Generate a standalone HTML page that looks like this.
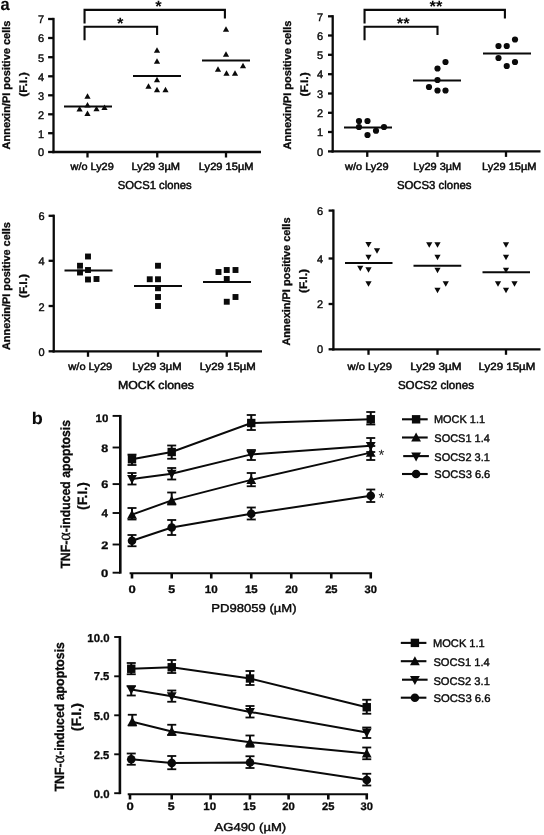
<!DOCTYPE html>
<html><head><meta charset="utf-8"><title>Figure</title>
<style>
html,body{margin:0;padding:0;background:#fff;}
body{width:544px;height:835px;overflow:hidden;font-family:"Liberation Sans",sans-serif;}
svg{display:block;filter:grayscale(1);}
text{font-family:"Liberation Sans",sans-serif;}
</style></head><body>
<svg width="544" height="835" viewBox="0 0 544 835" font-family="Liberation Sans, sans-serif" text-rendering="geometricPrecision">
<rect width="544" height="835" fill="#fff"/>
<line x1="53.5" y1="17.85" x2="53.5" y2="153.15" stroke="#0a0a0a" stroke-width="2.3" stroke-linecap="butt"/>
<line x1="48.1" y1="19" x2="53.5" y2="19" stroke="#0a0a0a" stroke-width="2.3" stroke-linecap="butt"/>
<text x="44" y="23.45" font-size="11" text-anchor="end" font-weight="normal" font-family="Liberation Sans" fill="#0a0a0a" stroke="#0a0a0a" stroke-width="0.4">7</text>
<line x1="48.1" y1="38" x2="53.5" y2="38" stroke="#0a0a0a" stroke-width="2.3" stroke-linecap="butt"/>
<text x="44" y="42.45" font-size="11" text-anchor="end" font-weight="normal" font-family="Liberation Sans" fill="#0a0a0a" stroke="#0a0a0a" stroke-width="0.4">6</text>
<line x1="48.1" y1="57.2" x2="53.5" y2="57.2" stroke="#0a0a0a" stroke-width="2.3" stroke-linecap="butt"/>
<text x="44" y="61.650000000000006" font-size="11" text-anchor="end" font-weight="normal" font-family="Liberation Sans" fill="#0a0a0a" stroke="#0a0a0a" stroke-width="0.4">5</text>
<line x1="48.1" y1="76.3" x2="53.5" y2="76.3" stroke="#0a0a0a" stroke-width="2.3" stroke-linecap="butt"/>
<text x="44" y="80.75" font-size="11" text-anchor="end" font-weight="normal" font-family="Liberation Sans" fill="#0a0a0a" stroke="#0a0a0a" stroke-width="0.4">4</text>
<line x1="48.1" y1="95.3" x2="53.5" y2="95.3" stroke="#0a0a0a" stroke-width="2.3" stroke-linecap="butt"/>
<text x="44" y="99.75" font-size="11" text-anchor="end" font-weight="normal" font-family="Liberation Sans" fill="#0a0a0a" stroke="#0a0a0a" stroke-width="0.4">3</text>
<line x1="48.1" y1="114.3" x2="53.5" y2="114.3" stroke="#0a0a0a" stroke-width="2.3" stroke-linecap="butt"/>
<text x="44" y="118.75" font-size="11" text-anchor="end" font-weight="normal" font-family="Liberation Sans" fill="#0a0a0a" stroke="#0a0a0a" stroke-width="0.4">2</text>
<line x1="48.1" y1="133.2" x2="53.5" y2="133.2" stroke="#0a0a0a" stroke-width="2.3" stroke-linecap="butt"/>
<text x="44" y="137.64999999999998" font-size="11" text-anchor="end" font-weight="normal" font-family="Liberation Sans" fill="#0a0a0a" stroke="#0a0a0a" stroke-width="0.4">1</text>
<line x1="48.1" y1="152" x2="53.5" y2="152" stroke="#0a0a0a" stroke-width="2.3" stroke-linecap="butt"/>
<text x="44" y="156.45" font-size="11" text-anchor="end" font-weight="normal" font-family="Liberation Sans" fill="#0a0a0a" stroke="#0a0a0a" stroke-width="0.4">0</text>
<line x1="52.35" y1="152" x2="261" y2="152" stroke="#0a0a0a" stroke-width="2.3" stroke-linecap="butt"/>
<line x1="87.5" y1="152" x2="87.5" y2="157.5" stroke="#0a0a0a" stroke-width="2.3" stroke-linecap="butt"/>
<line x1="157.25" y1="152" x2="157.25" y2="157.5" stroke="#0a0a0a" stroke-width="2.3" stroke-linecap="butt"/>
<line x1="226" y1="152" x2="226" y2="157.5" stroke="#0a0a0a" stroke-width="2.3" stroke-linecap="butt"/>
<text transform="translate(70.55,170.00) scale(1.0473,1)" font-size="10.4" fill="#0a0a0a" stroke="#0a0a0a" stroke-width="0.5"><tspan font-family="Liberation Sans" font-weight="normal">w/o Ly29</tspan></text>
<text transform="translate(131.61,170.00) scale(1.0665,1)" font-size="10.4" fill="#0a0a0a" stroke="#0a0a0a" stroke-width="0.5"><tspan font-family="Liberation Sans" font-weight="normal">Ly29 3µM</tspan></text>
<text transform="translate(198.86,170.00) scale(1.0673,1)" font-size="10.4" fill="#0a0a0a" stroke="#0a0a0a" stroke-width="0.5"><tspan font-family="Liberation Sans" font-weight="normal">Ly29 15µM</tspan></text>
<text transform="translate(117.79,188.80) scale(0.9783,1)" font-size="11.5" fill="#0a0a0a" stroke="#0a0a0a" stroke-width="0.5"><tspan font-family="Liberation Sans" font-weight="normal">SOCS1 clones</tspan></text>
<text transform="translate(9.90,149.47) rotate(-90) scale(0.9988,1)" font-size="11.0" fill="#0a0a0a" stroke="#0a0a0a" stroke-width="0.3"><tspan font-family="Liberation Sans" font-weight="bold">Annexin/PI positive cells</tspan></text>
<text transform="translate(27.00,96.81) rotate(-90) scale(1.1148,1)" font-size="11.0" fill="#0a0a0a" stroke="#0a0a0a" stroke-width="0.3"><tspan font-family="Liberation Sans" font-weight="bold">(F.I.)</tspan></text>
<line x1="64" y1="106.4" x2="112" y2="106.4" stroke="#0a0a0a" stroke-width="2.0" stroke-linecap="butt"/>
<polygon points="84.40,98.63 90.60,98.63 87.50,93.17" fill="#0a0a0a"/>
<polygon points="84.40,107.43 90.60,107.43 87.50,101.97" fill="#0a0a0a"/>
<polygon points="76.50,111.43 82.70,111.43 79.60,105.97" fill="#0a0a0a"/>
<polygon points="93.40,111.33 99.60,111.33 96.50,105.87" fill="#0a0a0a"/>
<polygon points="101.40,110.03 107.60,110.03 104.50,104.57" fill="#0a0a0a"/>
<polygon points="84.40,115.93 90.60,115.93 87.50,110.47" fill="#0a0a0a"/>
<line x1="133" y1="75.9" x2="181" y2="75.9" stroke="#0a0a0a" stroke-width="2.0" stroke-linecap="butt"/>
<polygon points="153.90,52.73 160.10,52.73 157.00,47.27" fill="#0a0a0a"/>
<polygon points="153.90,63.73 160.10,63.73 157.00,58.27" fill="#0a0a0a"/>
<polygon points="153.90,82.23 160.10,82.23 157.00,76.77" fill="#0a0a0a"/>
<polygon points="145.40,88.73 151.60,88.73 148.50,83.27" fill="#0a0a0a"/>
<polygon points="153.90,92.23 160.10,92.23 157.00,86.77" fill="#0a0a0a"/>
<polygon points="162.40,92.23 168.60,92.23 165.50,86.77" fill="#0a0a0a"/>
<line x1="202" y1="60.4" x2="250" y2="60.4" stroke="#0a0a0a" stroke-width="2.0" stroke-linecap="butt"/>
<polygon points="222.90,31.73 229.10,31.73 226.00,26.27" fill="#0a0a0a"/>
<polygon points="222.90,56.73 229.10,56.73 226.00,51.27" fill="#0a0a0a"/>
<polygon points="239.90,68.23 246.10,68.23 243.00,62.77" fill="#0a0a0a"/>
<polygon points="214.90,71.73 221.10,71.73 218.00,66.27" fill="#0a0a0a"/>
<polygon points="223.40,75.73 229.60,75.73 226.50,70.27" fill="#0a0a0a"/>
<polygon points="231.90,75.73 238.10,75.73 235.00,70.27" fill="#0a0a0a"/>
<polyline points="84.55,23.4 84.55,9.9 224.9,9.9 224.9,18.4" fill="none" stroke="#0a0a0a" stroke-width="2.1"/>
<polyline points="84.55,40.2 84.55,26.7 157.1,26.7 157.1,35" fill="none" stroke="#0a0a0a" stroke-width="2.1"/>
<text x="158.4" y="12.2" font-size="16.5" text-anchor="middle" font-weight="bold" font-family="Liberation Sans" fill="#0a0a0a" stroke="#0a0a0a" stroke-width="0">*</text>
<text x="120.2" y="28.5" font-size="16.5" text-anchor="middle" font-weight="bold" font-family="Liberation Sans" fill="#0a0a0a" stroke="#0a0a0a" stroke-width="0">*</text>
<line x1="332.7" y1="15.15" x2="332.7" y2="152.55" stroke="#0a0a0a" stroke-width="2.3" stroke-linecap="butt"/>
<line x1="328" y1="16.3" x2="332.7" y2="16.3" stroke="#0a0a0a" stroke-width="2.3" stroke-linecap="butt"/>
<text x="323.2" y="20.5" font-size="11" text-anchor="end" font-weight="normal" font-family="Liberation Sans" fill="#0a0a0a" stroke="#0a0a0a" stroke-width="0.4">7</text>
<line x1="328" y1="35.5" x2="332.7" y2="35.5" stroke="#0a0a0a" stroke-width="2.3" stroke-linecap="butt"/>
<text x="323.2" y="39.7" font-size="11" text-anchor="end" font-weight="normal" font-family="Liberation Sans" fill="#0a0a0a" stroke="#0a0a0a" stroke-width="0.4">6</text>
<line x1="328" y1="54.8" x2="332.7" y2="54.8" stroke="#0a0a0a" stroke-width="2.3" stroke-linecap="butt"/>
<text x="323.2" y="59.0" font-size="11" text-anchor="end" font-weight="normal" font-family="Liberation Sans" fill="#0a0a0a" stroke="#0a0a0a" stroke-width="0.4">5</text>
<line x1="328" y1="74.2" x2="332.7" y2="74.2" stroke="#0a0a0a" stroke-width="2.3" stroke-linecap="butt"/>
<text x="323.2" y="78.4" font-size="11" text-anchor="end" font-weight="normal" font-family="Liberation Sans" fill="#0a0a0a" stroke="#0a0a0a" stroke-width="0.4">4</text>
<line x1="328" y1="93.5" x2="332.7" y2="93.5" stroke="#0a0a0a" stroke-width="2.3" stroke-linecap="butt"/>
<text x="323.2" y="97.7" font-size="11" text-anchor="end" font-weight="normal" font-family="Liberation Sans" fill="#0a0a0a" stroke="#0a0a0a" stroke-width="0.4">3</text>
<line x1="328" y1="112.8" x2="332.7" y2="112.8" stroke="#0a0a0a" stroke-width="2.3" stroke-linecap="butt"/>
<text x="323.2" y="117.0" font-size="11" text-anchor="end" font-weight="normal" font-family="Liberation Sans" fill="#0a0a0a" stroke="#0a0a0a" stroke-width="0.4">2</text>
<line x1="328" y1="132" x2="332.7" y2="132" stroke="#0a0a0a" stroke-width="2.3" stroke-linecap="butt"/>
<text x="323.2" y="136.2" font-size="11" text-anchor="end" font-weight="normal" font-family="Liberation Sans" fill="#0a0a0a" stroke="#0a0a0a" stroke-width="0.4">1</text>
<line x1="328" y1="151.4" x2="332.7" y2="151.4" stroke="#0a0a0a" stroke-width="2.3" stroke-linecap="butt"/>
<text x="323.2" y="155.6" font-size="11" text-anchor="end" font-weight="normal" font-family="Liberation Sans" fill="#0a0a0a" stroke="#0a0a0a" stroke-width="0.4">0</text>
<line x1="331.55" y1="151.4" x2="540.5" y2="151.4" stroke="#0a0a0a" stroke-width="2.3" stroke-linecap="butt"/>
<line x1="367.25" y1="151.4" x2="367.25" y2="156.9" stroke="#0a0a0a" stroke-width="2.3" stroke-linecap="butt"/>
<line x1="437.5" y1="151.4" x2="437.5" y2="156.9" stroke="#0a0a0a" stroke-width="2.3" stroke-linecap="butt"/>
<line x1="506" y1="151.4" x2="506" y2="156.9" stroke="#0a0a0a" stroke-width="2.3" stroke-linecap="butt"/>
<text transform="translate(344.96,169.80) scale(1.0583,1)" font-size="10.4" fill="#0a0a0a" stroke="#0a0a0a" stroke-width="0.5"><tspan font-family="Liberation Sans" font-weight="normal">w/o Ly29</tspan></text>
<text transform="translate(413.32,169.80) scale(1.0539,1)" font-size="10.4" fill="#0a0a0a" stroke="#0a0a0a" stroke-width="0.5"><tspan font-family="Liberation Sans" font-weight="normal">Ly29 3µM</tspan></text>
<text transform="translate(482.01,169.80) scale(1.0642,1)" font-size="10.4" fill="#0a0a0a" stroke="#0a0a0a" stroke-width="0.5"><tspan font-family="Liberation Sans" font-weight="normal">Ly29 15µM</tspan></text>
<text transform="translate(396.89,189.20) scale(0.9890,1)" font-size="11.5" fill="#0a0a0a" stroke="#0a0a0a" stroke-width="0.5"><tspan font-family="Liberation Sans" font-weight="normal">SOCS3 clones</tspan></text>
<text transform="translate(290.90,149.47) rotate(-90) scale(0.9988,1)" font-size="11.0" fill="#0a0a0a" stroke="#0a0a0a" stroke-width="0.3"><tspan font-family="Liberation Sans" font-weight="bold">Annexin/PI positive cells</tspan></text>
<text transform="translate(307.60,96.51) rotate(-90) scale(1.1005,1)" font-size="11.0" fill="#0a0a0a" stroke="#0a0a0a" stroke-width="0.3"><tspan font-family="Liberation Sans" font-weight="bold">(F.I.)</tspan></text>
<line x1="344" y1="127.4" x2="392" y2="127.4" stroke="#0a0a0a" stroke-width="2.0" stroke-linecap="butt"/>
<circle cx="359" cy="121" r="3.1" fill="#0a0a0a"/>
<circle cx="367.5" cy="121" r="3.1" fill="#0a0a0a"/>
<circle cx="359" cy="127" r="3.1" fill="#0a0a0a"/>
<circle cx="384" cy="127" r="3.1" fill="#0a0a0a"/>
<circle cx="376" cy="130.75" r="3.1" fill="#0a0a0a"/>
<circle cx="367.5" cy="135" r="3.1" fill="#0a0a0a"/>
<line x1="413" y1="80.4" x2="461" y2="80.4" stroke="#0a0a0a" stroke-width="2.0" stroke-linecap="butt"/>
<circle cx="445.5" cy="62" r="3.1" fill="#0a0a0a"/>
<circle cx="437.5" cy="68.5" r="3.1" fill="#0a0a0a"/>
<circle cx="437.5" cy="80" r="3.1" fill="#0a0a0a"/>
<circle cx="429" cy="87" r="3.1" fill="#0a0a0a"/>
<circle cx="437.5" cy="90.5" r="3.1" fill="#0a0a0a"/>
<circle cx="445.5" cy="90.5" r="3.1" fill="#0a0a0a"/>
<line x1="483" y1="53.4" x2="531" y2="53.4" stroke="#0a0a0a" stroke-width="2.0" stroke-linecap="butt"/>
<circle cx="515" cy="39.5" r="3.1" fill="#0a0a0a"/>
<circle cx="498.5" cy="46" r="3.1" fill="#0a0a0a"/>
<circle cx="506.75" cy="46" r="3.1" fill="#0a0a0a"/>
<circle cx="498.5" cy="58" r="3.1" fill="#0a0a0a"/>
<circle cx="515" cy="62" r="3.1" fill="#0a0a0a"/>
<circle cx="506.75" cy="66" r="3.1" fill="#0a0a0a"/>
<polyline points="364.55,23.4 364.55,9.9 504.9,9.9 504.9,18.4" fill="none" stroke="#0a0a0a" stroke-width="2.1"/>
<polyline points="364.55,40.2 364.55,26.7 437.5,26.7 437.5,35" fill="none" stroke="#0a0a0a" stroke-width="2.1"/>
<text x="435.9" y="12.2" font-size="16.5" text-anchor="middle" font-weight="bold" font-family="Liberation Sans" fill="#0a0a0a" stroke="#0a0a0a" stroke-width="0">**</text>
<text x="403.2" y="28.5" font-size="16.5" text-anchor="middle" font-weight="bold" font-family="Liberation Sans" fill="#0a0a0a" stroke="#0a0a0a" stroke-width="0">**</text>
<line x1="53.75" y1="214.65" x2="53.75" y2="352.45" stroke="#0a0a0a" stroke-width="2.3" stroke-linecap="butt"/>
<line x1="48.6" y1="215.8" x2="53.75" y2="215.8" stroke="#0a0a0a" stroke-width="2.3" stroke-linecap="butt"/>
<text x="44.5" y="220.45" font-size="11" text-anchor="end" font-weight="normal" font-family="Liberation Sans" fill="#0a0a0a" stroke="#0a0a0a" stroke-width="0.4">6</text>
<line x1="48.6" y1="260.8" x2="53.75" y2="260.8" stroke="#0a0a0a" stroke-width="2.3" stroke-linecap="butt"/>
<text x="44.5" y="265.45" font-size="11" text-anchor="end" font-weight="normal" font-family="Liberation Sans" fill="#0a0a0a" stroke="#0a0a0a" stroke-width="0.4">4</text>
<line x1="48.6" y1="306" x2="53.75" y2="306" stroke="#0a0a0a" stroke-width="2.3" stroke-linecap="butt"/>
<text x="44.5" y="310.65" font-size="11" text-anchor="end" font-weight="normal" font-family="Liberation Sans" fill="#0a0a0a" stroke="#0a0a0a" stroke-width="0.4">2</text>
<line x1="48.6" y1="351.3" x2="53.75" y2="351.3" stroke="#0a0a0a" stroke-width="2.3" stroke-linecap="butt"/>
<text x="44.5" y="355.95" font-size="11" text-anchor="end" font-weight="normal" font-family="Liberation Sans" fill="#0a0a0a" stroke="#0a0a0a" stroke-width="0.4">0</text>
<line x1="52.6" y1="351.3" x2="262" y2="351.3" stroke="#0a0a0a" stroke-width="2.3" stroke-linecap="butt"/>
<line x1="88" y1="351.3" x2="88" y2="356.8" stroke="#0a0a0a" stroke-width="2.3" stroke-linecap="butt"/>
<line x1="158" y1="351.3" x2="158" y2="356.8" stroke="#0a0a0a" stroke-width="2.3" stroke-linecap="butt"/>
<line x1="226.75" y1="351.3" x2="226.75" y2="356.8" stroke="#0a0a0a" stroke-width="2.3" stroke-linecap="butt"/>
<text transform="translate(68.31,370.10) scale(1.0657,1)" font-size="10.4" fill="#0a0a0a" stroke="#0a0a0a" stroke-width="0.5"><tspan font-family="Liberation Sans" font-weight="normal">w/o Ly29</tspan></text>
<text transform="translate(132.20,370.10) scale(1.0859,1)" font-size="10.4" fill="#0a0a0a" stroke="#0a0a0a" stroke-width="0.5"><tspan font-family="Liberation Sans" font-weight="normal">Ly29 3µM</tspan></text>
<text transform="translate(199.69,370.10) scale(1.0954,1)" font-size="10.4" fill="#0a0a0a" stroke="#0a0a0a" stroke-width="0.5"><tspan font-family="Liberation Sans" font-weight="normal">Ly29 15µM</tspan></text>
<text transform="translate(117.91,388.80) scale(1.0713,1)" font-size="11.5" fill="#0a0a0a" stroke="#0a0a0a" stroke-width="0.5"><tspan font-family="Liberation Sans" font-weight="normal">MOCK clones</tspan></text>
<text transform="translate(9.65,350.07) rotate(-90) scale(0.9917,1)" font-size="11.0" fill="#0a0a0a" stroke="#0a0a0a" stroke-width="0.3"><tspan font-family="Liberation Sans" font-weight="bold">Annexin/PI positive cells</tspan></text>
<text transform="translate(26.90,297.90) rotate(-90) scale(1.0861,1)" font-size="11.0" fill="#0a0a0a" stroke="#0a0a0a" stroke-width="0.3"><tspan font-family="Liberation Sans" font-weight="bold">(F.I.)</tspan></text>
<line x1="64.5" y1="270.4" x2="112.5" y2="270.4" stroke="#0a0a0a" stroke-width="2.0" stroke-linecap="butt"/>
<rect x="85.05" y="253.55" width="5.9" height="5.9" fill="#0a0a0a"/>
<rect x="77.05" y="262.80" width="5.9" height="5.9" fill="#0a0a0a"/>
<rect x="85.05" y="267.05" width="5.9" height="5.9" fill="#0a0a0a"/>
<rect x="77.05" y="269.55" width="5.9" height="5.9" fill="#0a0a0a"/>
<rect x="85.05" y="276.55" width="5.9" height="5.9" fill="#0a0a0a"/>
<rect x="93.55" y="276.05" width="5.9" height="5.9" fill="#0a0a0a"/>
<line x1="134" y1="285.9" x2="182" y2="285.9" stroke="#0a0a0a" stroke-width="2.0" stroke-linecap="butt"/>
<rect x="155.05" y="262.80" width="5.9" height="5.9" fill="#0a0a0a"/>
<rect x="146.80" y="276.30" width="5.9" height="5.9" fill="#0a0a0a"/>
<rect x="155.05" y="276.30" width="5.9" height="5.9" fill="#0a0a0a"/>
<rect x="155.05" y="285.30" width="5.9" height="5.9" fill="#0a0a0a"/>
<rect x="155.05" y="294.05" width="5.9" height="5.9" fill="#0a0a0a"/>
<rect x="155.05" y="303.05" width="5.9" height="5.9" fill="#0a0a0a"/>
<line x1="203" y1="281.9" x2="251" y2="281.9" stroke="#0a0a0a" stroke-width="2.0" stroke-linecap="butt"/>
<rect x="215.55" y="269.05" width="5.9" height="5.9" fill="#0a0a0a"/>
<rect x="223.80" y="267.05" width="5.9" height="5.9" fill="#0a0a0a"/>
<rect x="232.55" y="267.05" width="5.9" height="5.9" fill="#0a0a0a"/>
<rect x="223.80" y="276.05" width="5.9" height="5.9" fill="#0a0a0a"/>
<rect x="232.55" y="294.05" width="5.9" height="5.9" fill="#0a0a0a"/>
<rect x="223.80" y="298.80" width="5.9" height="5.9" fill="#0a0a0a"/>
<line x1="333.4" y1="209.45" x2="333.4" y2="350.45" stroke="#0a0a0a" stroke-width="2.3" stroke-linecap="butt"/>
<line x1="328.6" y1="210.6" x2="333.4" y2="210.6" stroke="#0a0a0a" stroke-width="2.3" stroke-linecap="butt"/>
<text x="323.2" y="214.74999999999997" font-size="11" text-anchor="end" font-weight="normal" font-family="Liberation Sans" fill="#0a0a0a" stroke="#0a0a0a" stroke-width="0.4">6</text>
<line x1="328.6" y1="258.5" x2="333.4" y2="258.5" stroke="#0a0a0a" stroke-width="2.3" stroke-linecap="butt"/>
<text x="323.2" y="262.65" font-size="11" text-anchor="end" font-weight="normal" font-family="Liberation Sans" fill="#0a0a0a" stroke="#0a0a0a" stroke-width="0.4">4</text>
<line x1="328.6" y1="304" x2="333.4" y2="304" stroke="#0a0a0a" stroke-width="2.3" stroke-linecap="butt"/>
<text x="323.2" y="308.15" font-size="11" text-anchor="end" font-weight="normal" font-family="Liberation Sans" fill="#0a0a0a" stroke="#0a0a0a" stroke-width="0.4">2</text>
<line x1="328.6" y1="349.3" x2="333.4" y2="349.3" stroke="#0a0a0a" stroke-width="2.3" stroke-linecap="butt"/>
<text x="323.2" y="353.45" font-size="11" text-anchor="end" font-weight="normal" font-family="Liberation Sans" fill="#0a0a0a" stroke="#0a0a0a" stroke-width="0.4">0</text>
<line x1="332.25" y1="349.3" x2="540.5" y2="349.3" stroke="#0a0a0a" stroke-width="2.3" stroke-linecap="butt"/>
<line x1="368.5" y1="349.3" x2="368.5" y2="354.8" stroke="#0a0a0a" stroke-width="2.3" stroke-linecap="butt"/>
<line x1="437.5" y1="349.3" x2="437.5" y2="354.8" stroke="#0a0a0a" stroke-width="2.3" stroke-linecap="butt"/>
<line x1="506" y1="349.3" x2="506" y2="354.8" stroke="#0a0a0a" stroke-width="2.3" stroke-linecap="butt"/>
<text transform="translate(347.56,369.50) scale(1.0755,1)" font-size="10.4" fill="#0a0a0a" stroke="#0a0a0a" stroke-width="0.5"><tspan font-family="Liberation Sans" font-weight="normal">w/o Ly29</tspan></text>
<text transform="translate(410.26,369.50) scale(1.1292,1)" font-size="10.4" fill="#0a0a0a" stroke="#0a0a0a" stroke-width="0.5"><tspan font-family="Liberation Sans" font-weight="normal">Ly29 3µM</tspan></text>
<text transform="translate(478.58,369.50) scale(1.1075,1)" font-size="10.4" fill="#0a0a0a" stroke="#0a0a0a" stroke-width="0.5"><tspan font-family="Liberation Sans" font-weight="normal">Ly29 15µM</tspan></text>
<text transform="translate(397.88,388.80) scale(1.0091,1)" font-size="11.5" fill="#0a0a0a" stroke="#0a0a0a" stroke-width="0.5"><tspan font-family="Liberation Sans" font-weight="normal">SOCS2 clones</tspan></text>
<text transform="translate(290.00,345.57) rotate(-90) scale(0.9925,1)" font-size="11.0" fill="#0a0a0a" stroke="#0a0a0a" stroke-width="0.3"><tspan font-family="Liberation Sans" font-weight="bold">Annexin/PI positive cells</tspan></text>
<text transform="translate(306.70,293.00) rotate(-90) scale(1.0909,1)" font-size="11.0" fill="#0a0a0a" stroke="#0a0a0a" stroke-width="0.3"><tspan font-family="Liberation Sans" font-weight="bold">(F.I.)</tspan></text>
<line x1="345" y1="262.9" x2="392.5" y2="262.9" stroke="#0a0a0a" stroke-width="2.0" stroke-linecap="butt"/>
<polygon points="365.40,242.12 371.60,242.12 368.50,247.58" fill="#0a0a0a"/>
<polygon points="373.90,248.37 380.10,248.37 377.00,253.83" fill="#0a0a0a"/>
<polygon points="365.40,254.87 371.60,254.87 368.50,260.33" fill="#0a0a0a"/>
<polygon points="357.15,265.87 363.35,265.87 360.25,271.33" fill="#0a0a0a"/>
<polygon points="365.40,267.37 371.60,267.37 368.50,272.83" fill="#0a0a0a"/>
<polygon points="365.40,281.37 371.60,281.37 368.50,286.83" fill="#0a0a0a"/>
<line x1="413.5" y1="265.65" x2="461.25" y2="265.65" stroke="#0a0a0a" stroke-width="2.0" stroke-linecap="butt"/>
<polygon points="426.15,242.37 432.35,242.37 429.25,247.83" fill="#0a0a0a"/>
<polygon points="434.40,242.37 440.60,242.37 437.50,247.83" fill="#0a0a0a"/>
<polygon points="434.40,254.87 440.60,254.87 437.50,260.33" fill="#0a0a0a"/>
<polygon points="434.40,267.87 440.60,267.87 437.50,273.33" fill="#0a0a0a"/>
<polygon points="442.65,281.37 448.85,281.37 445.75,286.83" fill="#0a0a0a"/>
<polygon points="434.40,287.87 440.60,287.87 437.50,293.33" fill="#0a0a0a"/>
<line x1="482.5" y1="272.15" x2="530" y2="272.15" stroke="#0a0a0a" stroke-width="2.0" stroke-linecap="butt"/>
<polygon points="502.90,242.37 509.10,242.37 506.00,247.83" fill="#0a0a0a"/>
<polygon points="502.90,254.87 509.10,254.87 506.00,260.33" fill="#0a0a0a"/>
<polygon points="502.90,267.87 509.10,267.87 506.00,273.33" fill="#0a0a0a"/>
<polygon points="494.90,281.37 501.10,281.37 498.00,286.83" fill="#0a0a0a"/>
<polygon points="511.40,281.37 517.60,281.37 514.50,286.83" fill="#0a0a0a"/>
<polygon points="502.90,287.87 509.10,287.87 506.00,293.33" fill="#0a0a0a"/>
<text transform="translate(0.61,10.10) scale(0.9508,1)" font-size="17.3" fill="#0a0a0a" stroke="#0a0a0a" stroke-width="0.1"><tspan font-family="Liberation Sans" font-weight="bold">a</tspan></text>
<text transform="translate(31.73,423.70) scale(1.0600,1)" font-size="17" fill="#0a0a0a" stroke="#0a0a0a" stroke-width="0.1"><tspan font-family="Liberation Sans" font-weight="bold">b</tspan></text>
<line x1="120.3" y1="414.95" x2="120.3" y2="573.6500000000001" stroke="#0a0a0a" stroke-width="2.6" stroke-linecap="butt"/>
<line x1="112.6" y1="415.9" x2="120.3" y2="415.9" stroke="#0a0a0a" stroke-width="1.9" stroke-linecap="butt"/>
<text transform="translate(95.51,421.80) scale(1.0537,1)" font-size="10.9" fill="#0a0a0a" stroke="#0a0a0a" stroke-width="0.3"><tspan font-family="Liberation Sans" font-weight="bold">10</tspan></text>
<line x1="112.6" y1="447.5" x2="120.3" y2="447.5" stroke="#0a0a0a" stroke-width="1.9" stroke-linecap="butt"/>
<text transform="translate(101.22,451.60) scale(1.1491,1)" font-size="10.9" fill="#0a0a0a" stroke="#0a0a0a" stroke-width="0.3"><tspan font-family="Liberation Sans" font-weight="bold">8</tspan></text>
<line x1="112.6" y1="484.1" x2="120.3" y2="484.1" stroke="#0a0a0a" stroke-width="1.9" stroke-linecap="butt"/>
<text transform="translate(101.15,488.00) scale(1.1728,1)" font-size="10.9" fill="#0a0a0a" stroke="#0a0a0a" stroke-width="0.3"><tspan font-family="Liberation Sans" font-weight="bold">6</tspan></text>
<line x1="112.6" y1="513" x2="120.3" y2="513" stroke="#0a0a0a" stroke-width="1.9" stroke-linecap="butt"/>
<text transform="translate(101.43,516.50) scale(1.0632,1)" font-size="10.9" fill="#0a0a0a" stroke="#0a0a0a" stroke-width="0.3"><tspan font-family="Liberation Sans" font-weight="bold">4</tspan></text>
<line x1="112.6" y1="544.5" x2="120.3" y2="544.5" stroke="#0a0a0a" stroke-width="1.9" stroke-linecap="butt"/>
<text transform="translate(101.15,548.50) scale(1.1728,1)" font-size="10.9" fill="#0a0a0a" stroke="#0a0a0a" stroke-width="0.3"><tspan font-family="Liberation Sans" font-weight="bold">2</tspan></text>
<line x1="112.6" y1="572.7" x2="120.3" y2="572.7" stroke="#0a0a0a" stroke-width="1.9" stroke-linecap="butt"/>
<text transform="translate(101.08,577.20) scale(1.1975,1)" font-size="10.9" fill="#0a0a0a" stroke="#0a0a0a" stroke-width="0.3"><tspan font-family="Liberation Sans" font-weight="bold">0</tspan></text>
<line x1="129.6" y1="573.2" x2="372.05" y2="573.2" stroke="#0a0a0a" stroke-width="1.9" stroke-linecap="butt"/>
<line x1="132" y1="573.2" x2="132" y2="578.5" stroke="#0a0a0a" stroke-width="2.6" stroke-linecap="butt"/>
<text transform="translate(128.38,592.60) scale(1.1975,1)" font-size="10.9" fill="#0a0a0a" stroke="#0a0a0a" stroke-width="0.3"><tspan font-family="Liberation Sans" font-weight="bold">0</tspan></text>
<line x1="171.7" y1="573.2" x2="171.7" y2="578.5" stroke="#0a0a0a" stroke-width="2.6" stroke-linecap="butt"/>
<text transform="translate(168.23,592.60) scale(1.1376,1)" font-size="10.9" fill="#0a0a0a" stroke="#0a0a0a" stroke-width="0.3"><tspan font-family="Liberation Sans" font-weight="bold">5</tspan></text>
<line x1="211.25" y1="573.2" x2="211.25" y2="578.5" stroke="#0a0a0a" stroke-width="2.6" stroke-linecap="butt"/>
<text transform="translate(204.85,592.60) scale(1.0628,1)" font-size="10.9" fill="#0a0a0a" stroke="#0a0a0a" stroke-width="0.3"><tspan font-family="Liberation Sans" font-weight="bold">10</tspan></text>
<line x1="251.25" y1="573.2" x2="251.25" y2="578.5" stroke="#0a0a0a" stroke-width="2.6" stroke-linecap="butt"/>
<text transform="translate(244.97,592.60) scale(1.0472,1)" font-size="10.9" fill="#0a0a0a" stroke="#0a0a0a" stroke-width="0.3"><tspan font-family="Liberation Sans" font-weight="bold">15</tspan></text>
<line x1="291.25" y1="573.2" x2="291.25" y2="578.5" stroke="#0a0a0a" stroke-width="2.6" stroke-linecap="butt"/>
<text transform="translate(285.15,592.60) scale(1.0371,1)" font-size="10.9" fill="#0a0a0a" stroke="#0a0a0a" stroke-width="0.3"><tspan font-family="Liberation Sans" font-weight="bold">20</tspan></text>
<line x1="331.25" y1="573.2" x2="331.25" y2="578.5" stroke="#0a0a0a" stroke-width="2.6" stroke-linecap="butt"/>
<text transform="translate(325.16,592.60) scale(1.0223,1)" font-size="10.9" fill="#0a0a0a" stroke="#0a0a0a" stroke-width="0.3"><tspan font-family="Liberation Sans" font-weight="bold">25</tspan></text>
<line x1="370.75" y1="573.2" x2="370.75" y2="578.5" stroke="#0a0a0a" stroke-width="2.6" stroke-linecap="butt"/>
<text transform="translate(364.53,592.60) scale(1.0223,1)" font-size="10.9" fill="#0a0a0a" stroke="#0a0a0a" stroke-width="0.3"><tspan font-family="Liberation Sans" font-weight="bold">30</tspan></text>
<text transform="translate(211.25,611.60) scale(1.1365,1)" font-size="11.5" fill="#0a0a0a" stroke="#0a0a0a" stroke-width="0.4"><tspan font-family="Liberation Sans" font-weight="normal">PD98059 (µM)</tspan></text>
<text transform="translate(70.10,568.62) rotate(-90) scale(0.9209,1)" font-size="13.3" fill="#0a0a0a" stroke="#0a0a0a" stroke-width="0.3"><tspan font-family="Liberation Sans" font-weight="bold">TNF-</tspan><tspan font-family="Liberation Serif" font-weight="normal" font-size="17.56">α</tspan><tspan font-family="Liberation Sans" font-weight="bold">-induced apoptosis</tspan></text>
<text transform="translate(87.40,509.99) rotate(-90) scale(1.0217,1)" font-size="13.6" fill="#0a0a0a" stroke="#0a0a0a" stroke-width="0.3"><tspan font-family="Liberation Sans" font-weight="bold">(F.I.)</tspan></text>
<polyline points="132,459.25 171.7,452 251.25,423 370.75,419.25" fill="none" stroke="#0a0a0a" stroke-width="2.0"/>
<line x1="132" y1="454.6" x2="132" y2="465" stroke="#0a0a0a" stroke-width="2.0" stroke-linecap="butt"/>
<line x1="127.5" y1="454.6" x2="136.5" y2="454.6" stroke="#0a0a0a" stroke-width="1.8" stroke-linecap="butt"/>
<line x1="127.5" y1="465" x2="136.5" y2="465" stroke="#0a0a0a" stroke-width="1.8" stroke-linecap="butt"/>
<rect x="127.80" y="455.05" width="8.4" height="8.4" fill="#0a0a0a"/>
<line x1="171.7" y1="445.5" x2="171.7" y2="458.75" stroke="#0a0a0a" stroke-width="2.0" stroke-linecap="butt"/>
<line x1="167.2" y1="445.5" x2="176.2" y2="445.5" stroke="#0a0a0a" stroke-width="1.8" stroke-linecap="butt"/>
<line x1="167.2" y1="458.75" x2="176.2" y2="458.75" stroke="#0a0a0a" stroke-width="1.8" stroke-linecap="butt"/>
<rect x="167.50" y="447.80" width="8.4" height="8.4" fill="#0a0a0a"/>
<line x1="251.25" y1="415" x2="251.25" y2="430" stroke="#0a0a0a" stroke-width="2.0" stroke-linecap="butt"/>
<line x1="246.75" y1="415" x2="255.75" y2="415" stroke="#0a0a0a" stroke-width="1.8" stroke-linecap="butt"/>
<line x1="246.75" y1="430" x2="255.75" y2="430" stroke="#0a0a0a" stroke-width="1.8" stroke-linecap="butt"/>
<rect x="247.05" y="418.80" width="8.4" height="8.4" fill="#0a0a0a"/>
<line x1="370.75" y1="412" x2="370.75" y2="424.5" stroke="#0a0a0a" stroke-width="2.0" stroke-linecap="butt"/>
<line x1="366.25" y1="412" x2="375.25" y2="412" stroke="#0a0a0a" stroke-width="1.8" stroke-linecap="butt"/>
<line x1="366.25" y1="424.5" x2="375.25" y2="424.5" stroke="#0a0a0a" stroke-width="1.8" stroke-linecap="butt"/>
<rect x="366.55" y="415.05" width="8.4" height="8.4" fill="#0a0a0a"/>
<polyline points="132,478.9 171.7,473.65 251.25,454.4 370.75,445.79999999999995" fill="none" stroke="#0a0a0a" stroke-width="2.0"/>
<line x1="132" y1="473" x2="132" y2="484.5" stroke="#0a0a0a" stroke-width="2.0" stroke-linecap="butt"/>
<line x1="127.5" y1="473" x2="136.5" y2="473" stroke="#0a0a0a" stroke-width="1.8" stroke-linecap="butt"/>
<line x1="127.5" y1="484.5" x2="136.5" y2="484.5" stroke="#0a0a0a" stroke-width="1.8" stroke-linecap="butt"/>
<polygon points="127.10,475.00 136.90,475.00 132.00,484.00" fill="#0a0a0a"/>
<line x1="171.7" y1="468" x2="171.7" y2="479.5" stroke="#0a0a0a" stroke-width="2.0" stroke-linecap="butt"/>
<line x1="167.2" y1="468" x2="176.2" y2="468" stroke="#0a0a0a" stroke-width="1.8" stroke-linecap="butt"/>
<line x1="167.2" y1="479.5" x2="176.2" y2="479.5" stroke="#0a0a0a" stroke-width="1.8" stroke-linecap="butt"/>
<polygon points="166.80,469.75 176.60,469.75 171.70,478.75" fill="#0a0a0a"/>
<line x1="251.25" y1="450" x2="251.25" y2="460" stroke="#0a0a0a" stroke-width="2.0" stroke-linecap="butt"/>
<line x1="246.75" y1="450" x2="255.75" y2="450" stroke="#0a0a0a" stroke-width="1.8" stroke-linecap="butt"/>
<line x1="246.75" y1="460" x2="255.75" y2="460" stroke="#0a0a0a" stroke-width="1.8" stroke-linecap="butt"/>
<polygon points="246.35,450.50 256.15,450.50 251.25,459.50" fill="#0a0a0a"/>
<line x1="370.75" y1="438" x2="370.75" y2="452" stroke="#0a0a0a" stroke-width="2.0" stroke-linecap="butt"/>
<line x1="366.25" y1="438" x2="375.25" y2="438" stroke="#0a0a0a" stroke-width="1.8" stroke-linecap="butt"/>
<line x1="366.25" y1="452" x2="375.25" y2="452" stroke="#0a0a0a" stroke-width="1.8" stroke-linecap="butt"/>
<polygon points="365.85,441.90 375.65,441.90 370.75,450.90" fill="#0a0a0a"/>
<polyline points="132,514.65 171.7,500.4 251.25,479.9 370.75,452.59999999999997" fill="none" stroke="#0a0a0a" stroke-width="2.0"/>
<line x1="132" y1="508" x2="132" y2="519.5" stroke="#0a0a0a" stroke-width="2.0" stroke-linecap="butt"/>
<line x1="127.5" y1="508" x2="136.5" y2="508" stroke="#0a0a0a" stroke-width="1.8" stroke-linecap="butt"/>
<line x1="127.5" y1="519.5" x2="136.5" y2="519.5" stroke="#0a0a0a" stroke-width="1.8" stroke-linecap="butt"/>
<polygon points="127.10,518.75 136.90,518.75 132.00,509.75" fill="#0a0a0a"/>
<line x1="171.7" y1="492.5" x2="171.7" y2="504.5" stroke="#0a0a0a" stroke-width="2.0" stroke-linecap="butt"/>
<line x1="167.2" y1="492.5" x2="176.2" y2="492.5" stroke="#0a0a0a" stroke-width="1.8" stroke-linecap="butt"/>
<line x1="167.2" y1="504.5" x2="176.2" y2="504.5" stroke="#0a0a0a" stroke-width="1.8" stroke-linecap="butt"/>
<polygon points="166.80,504.50 176.60,504.50 171.70,495.50" fill="#0a0a0a"/>
<line x1="251.25" y1="473" x2="251.25" y2="486.25" stroke="#0a0a0a" stroke-width="2.0" stroke-linecap="butt"/>
<line x1="246.75" y1="473" x2="255.75" y2="473" stroke="#0a0a0a" stroke-width="1.8" stroke-linecap="butt"/>
<line x1="246.75" y1="486.25" x2="255.75" y2="486.25" stroke="#0a0a0a" stroke-width="1.8" stroke-linecap="butt"/>
<polygon points="246.35,484.00 256.15,484.00 251.25,475.00" fill="#0a0a0a"/>
<line x1="370.75" y1="446" x2="370.75" y2="460" stroke="#0a0a0a" stroke-width="2.0" stroke-linecap="butt"/>
<line x1="366.25" y1="446" x2="375.25" y2="446" stroke="#0a0a0a" stroke-width="1.8" stroke-linecap="butt"/>
<line x1="366.25" y1="460" x2="375.25" y2="460" stroke="#0a0a0a" stroke-width="1.8" stroke-linecap="butt"/>
<polygon points="365.85,456.70 375.65,456.70 370.75,447.70" fill="#0a0a0a"/>
<polyline points="132,540.75 171.7,527.5 251.25,513.75 370.75,495.75" fill="none" stroke="#0a0a0a" stroke-width="2.0"/>
<line x1="132" y1="535" x2="132" y2="546.25" stroke="#0a0a0a" stroke-width="2.0" stroke-linecap="butt"/>
<line x1="127.5" y1="535" x2="136.5" y2="535" stroke="#0a0a0a" stroke-width="1.8" stroke-linecap="butt"/>
<line x1="127.5" y1="546.25" x2="136.5" y2="546.25" stroke="#0a0a0a" stroke-width="1.8" stroke-linecap="butt"/>
<circle cx="132" cy="540.75" r="4.3" fill="#0a0a0a"/>
<line x1="171.7" y1="520" x2="171.7" y2="535" stroke="#0a0a0a" stroke-width="2.0" stroke-linecap="butt"/>
<line x1="167.2" y1="520" x2="176.2" y2="520" stroke="#0a0a0a" stroke-width="1.8" stroke-linecap="butt"/>
<line x1="167.2" y1="535" x2="176.2" y2="535" stroke="#0a0a0a" stroke-width="1.8" stroke-linecap="butt"/>
<circle cx="171.7" cy="527.5" r="4.3" fill="#0a0a0a"/>
<line x1="251.25" y1="507.5" x2="251.25" y2="519.5" stroke="#0a0a0a" stroke-width="2.0" stroke-linecap="butt"/>
<line x1="246.75" y1="507.5" x2="255.75" y2="507.5" stroke="#0a0a0a" stroke-width="1.8" stroke-linecap="butt"/>
<line x1="246.75" y1="519.5" x2="255.75" y2="519.5" stroke="#0a0a0a" stroke-width="1.8" stroke-linecap="butt"/>
<circle cx="251.25" cy="513.75" r="4.3" fill="#0a0a0a"/>
<line x1="370.75" y1="489.5" x2="370.75" y2="502" stroke="#0a0a0a" stroke-width="2.0" stroke-linecap="butt"/>
<line x1="366.25" y1="489.5" x2="375.25" y2="489.5" stroke="#0a0a0a" stroke-width="1.8" stroke-linecap="butt"/>
<line x1="366.25" y1="502" x2="375.25" y2="502" stroke="#0a0a0a" stroke-width="1.8" stroke-linecap="butt"/>
<circle cx="370.75" cy="495.75" r="4.3" fill="#0a0a0a"/>
<line x1="402" y1="419.3" x2="427.7" y2="419.3" stroke="#0a0a0a" stroke-width="2.1" stroke-linecap="butt"/>
<rect x="411.90" y="415.10" width="8.4" height="8.4" fill="#0a0a0a"/>
<text transform="translate(433.92,423.00) scale(0.9952,1)" font-size="11" fill="#0a0a0a" stroke="#0a0a0a" stroke-width="0.4"><tspan font-family="Liberation Sans" font-weight="normal">MOCK 1.1</tspan></text>
<line x1="402" y1="437.5" x2="427.7" y2="437.5" stroke="#0a0a0a" stroke-width="2.1" stroke-linecap="butt"/>
<polygon points="411.20,441.60 421.00,441.60 416.10,432.60" fill="#0a0a0a"/>
<text transform="translate(434.31,441.75) scale(0.9975,1)" font-size="11" fill="#0a0a0a" stroke="#0a0a0a" stroke-width="0.4"><tspan font-family="Liberation Sans" font-weight="normal">SOCS1 1.4</tspan></text>
<line x1="403.2" y1="456.1" x2="428.9" y2="456.1" stroke="#0a0a0a" stroke-width="2.1" stroke-linecap="butt"/>
<polygon points="411.20,452.40 421.00,452.40 416.10,461.40" fill="#0a0a0a"/>
<text transform="translate(434.31,460.50) scale(0.9979,1)" font-size="11" fill="#0a0a0a" stroke="#0a0a0a" stroke-width="0.4"><tspan font-family="Liberation Sans" font-weight="normal">SOCS2 3.1</tspan></text>
<line x1="402" y1="474" x2="427.7" y2="474" stroke="#0a0a0a" stroke-width="2.1" stroke-linecap="butt"/>
<circle cx="416.1" cy="474" r="4.3" fill="#0a0a0a"/>
<text transform="translate(434.30,478.25) scale(1.0060,1)" font-size="11" fill="#0a0a0a" stroke="#0a0a0a" stroke-width="0.4"><tspan font-family="Liberation Sans" font-weight="normal">SOCS3 6.6</tspan></text>
<text x="381.3" y="460.0" font-size="15" text-anchor="middle" font-weight="normal" font-family="Liberation Serif" fill="#222" stroke="#222" stroke-width="0">*</text>
<text x="381.3" y="503.4" font-size="15" text-anchor="middle" font-weight="normal" font-family="Liberation Serif" fill="#222" stroke="#222" stroke-width="0">*</text>
<line x1="119.9" y1="636.05" x2="119.9" y2="794.1500000000001" stroke="#0a0a0a" stroke-width="2.6" stroke-linecap="butt"/>
<line x1="114.2" y1="637.0" x2="119.9" y2="637.0" stroke="#0a0a0a" stroke-width="1.9" stroke-linecap="butt"/>
<text transform="translate(87.32,641.90) scale(0.9897,1)" font-size="11.5" fill="#0a0a0a" stroke="#0a0a0a" stroke-width="0.3"><tspan font-family="Liberation Sans" font-weight="bold">10.0</tspan></text>
<line x1="114.2" y1="676.3" x2="119.9" y2="676.3" stroke="#0a0a0a" stroke-width="1.9" stroke-linecap="butt"/>
<text transform="translate(93.65,680.40) scale(0.9779,1)" font-size="11.5" fill="#0a0a0a" stroke="#0a0a0a" stroke-width="0.3"><tspan font-family="Liberation Sans" font-weight="bold">7.5</tspan></text>
<line x1="114.2" y1="715.3" x2="119.9" y2="715.3" stroke="#0a0a0a" stroke-width="1.9" stroke-linecap="butt"/>
<text transform="translate(93.76,719.90) scale(0.9816,1)" font-size="11.5" fill="#0a0a0a" stroke="#0a0a0a" stroke-width="0.3"><tspan font-family="Liberation Sans" font-weight="bold">5.0</tspan></text>
<line x1="114.2" y1="754.3" x2="119.9" y2="754.3" stroke="#0a0a0a" stroke-width="1.9" stroke-linecap="butt"/>
<text transform="translate(93.71,758.90) scale(0.9742,1)" font-size="11.5" fill="#0a0a0a" stroke="#0a0a0a" stroke-width="0.3"><tspan font-family="Liberation Sans" font-weight="bold">2.5</tspan></text>
<line x1="114.2" y1="793.2" x2="119.9" y2="793.2" stroke="#0a0a0a" stroke-width="1.9" stroke-linecap="butt"/>
<text transform="translate(93.65,798.10) scale(0.9890,1)" font-size="11.5" fill="#0a0a0a" stroke="#0a0a0a" stroke-width="0.3"><tspan font-family="Liberation Sans" font-weight="bold">0.0</tspan></text>
<line x1="127.7" y1="794.2" x2="368.05" y2="794.2" stroke="#0a0a0a" stroke-width="1.9" stroke-linecap="butt"/>
<line x1="130" y1="794.2" x2="130" y2="799.5" stroke="#0a0a0a" stroke-width="2.6" stroke-linecap="butt"/>
<text transform="translate(126.38,810.30) scale(1.1975,1)" font-size="10.9" fill="#0a0a0a" stroke="#0a0a0a" stroke-width="0.3"><tspan font-family="Liberation Sans" font-weight="bold">0</tspan></text>
<line x1="171.7" y1="794.2" x2="171.7" y2="799.5" stroke="#0a0a0a" stroke-width="2.6" stroke-linecap="butt"/>
<text transform="translate(167.83,810.30) scale(1.1376,1)" font-size="10.9" fill="#0a0a0a" stroke="#0a0a0a" stroke-width="0.3"><tspan font-family="Liberation Sans" font-weight="bold">5</tspan></text>
<line x1="210.6" y1="794.2" x2="210.6" y2="799.5" stroke="#0a0a0a" stroke-width="2.6" stroke-linecap="butt"/>
<text transform="translate(203.25,810.30) scale(1.0628,1)" font-size="10.9" fill="#0a0a0a" stroke="#0a0a0a" stroke-width="0.3"><tspan font-family="Liberation Sans" font-weight="bold">10</tspan></text>
<line x1="249.9" y1="794.2" x2="249.9" y2="799.5" stroke="#0a0a0a" stroke-width="2.6" stroke-linecap="butt"/>
<text transform="translate(243.07,810.30) scale(1.0472,1)" font-size="10.9" fill="#0a0a0a" stroke="#0a0a0a" stroke-width="0.3"><tspan font-family="Liberation Sans" font-weight="bold">15</tspan></text>
<line x1="288.6" y1="794.2" x2="288.6" y2="799.5" stroke="#0a0a0a" stroke-width="2.6" stroke-linecap="butt"/>
<text transform="translate(282.25,810.30) scale(1.0371,1)" font-size="10.9" fill="#0a0a0a" stroke="#0a0a0a" stroke-width="0.3"><tspan font-family="Liberation Sans" font-weight="bold">20</tspan></text>
<line x1="328.3" y1="794.2" x2="328.3" y2="799.5" stroke="#0a0a0a" stroke-width="2.6" stroke-linecap="butt"/>
<text transform="translate(321.96,810.30) scale(1.0223,1)" font-size="10.9" fill="#0a0a0a" stroke="#0a0a0a" stroke-width="0.3"><tspan font-family="Liberation Sans" font-weight="bold">25</tspan></text>
<line x1="366.75" y1="794.2" x2="366.75" y2="799.5" stroke="#0a0a0a" stroke-width="2.6" stroke-linecap="butt"/>
<text transform="translate(360.53,810.30) scale(1.0223,1)" font-size="10.9" fill="#0a0a0a" stroke="#0a0a0a" stroke-width="0.3"><tspan font-family="Liberation Sans" font-weight="bold">30</tspan></text>
<text transform="translate(214.60,831.00) scale(1.1396,1)" font-size="11.5" fill="#0a0a0a" stroke="#0a0a0a" stroke-width="0.4"><tspan font-family="Liberation Sans" font-weight="normal">AG490 (µM)</tspan></text>
<text transform="translate(63.90,791.52) rotate(-90) scale(0.9259,1)" font-size="13.3" fill="#0a0a0a" stroke="#0a0a0a" stroke-width="0.3"><tspan font-family="Liberation Sans" font-weight="bold">TNF-</tspan><tspan font-family="Liberation Serif" font-weight="normal" font-size="17.56">α</tspan><tspan font-family="Liberation Sans" font-weight="bold">-induced apoptosis</tspan></text>
<text transform="translate(81.00,731.31) rotate(-90) scale(1.0372,1)" font-size="13.6" fill="#0a0a0a" stroke="#0a0a0a" stroke-width="0.3"><tspan font-family="Liberation Sans" font-weight="bold">(F.I.)</tspan></text>
<polyline points="131.25,668.75 171.75,667.25 250,678.5 366.75,707.25" fill="none" stroke="#0a0a0a" stroke-width="2.0"/>
<line x1="131.25" y1="663.0" x2="131.25" y2="674.25" stroke="#0a0a0a" stroke-width="2.0" stroke-linecap="butt"/>
<line x1="126.75" y1="663.0" x2="135.75" y2="663.0" stroke="#0a0a0a" stroke-width="1.8" stroke-linecap="butt"/>
<line x1="126.75" y1="674.25" x2="135.75" y2="674.25" stroke="#0a0a0a" stroke-width="1.8" stroke-linecap="butt"/>
<rect x="127.05" y="664.55" width="8.4" height="8.4" fill="#0a0a0a"/>
<line x1="171.75" y1="660.0" x2="171.75" y2="673.0" stroke="#0a0a0a" stroke-width="2.0" stroke-linecap="butt"/>
<line x1="167.25" y1="660.0" x2="176.25" y2="660.0" stroke="#0a0a0a" stroke-width="1.8" stroke-linecap="butt"/>
<line x1="167.25" y1="673.0" x2="176.25" y2="673.0" stroke="#0a0a0a" stroke-width="1.8" stroke-linecap="butt"/>
<rect x="167.55" y="663.05" width="8.4" height="8.4" fill="#0a0a0a"/>
<line x1="250" y1="671.0" x2="250" y2="685.0" stroke="#0a0a0a" stroke-width="2.0" stroke-linecap="butt"/>
<line x1="245.5" y1="671.0" x2="254.5" y2="671.0" stroke="#0a0a0a" stroke-width="1.8" stroke-linecap="butt"/>
<line x1="245.5" y1="685.0" x2="254.5" y2="685.0" stroke="#0a0a0a" stroke-width="1.8" stroke-linecap="butt"/>
<rect x="245.80" y="674.30" width="8.4" height="8.4" fill="#0a0a0a"/>
<line x1="366.75" y1="699.75" x2="366.75" y2="713.75" stroke="#0a0a0a" stroke-width="2.0" stroke-linecap="butt"/>
<line x1="362.25" y1="699.75" x2="371.25" y2="699.75" stroke="#0a0a0a" stroke-width="1.8" stroke-linecap="butt"/>
<line x1="362.25" y1="713.75" x2="371.25" y2="713.75" stroke="#0a0a0a" stroke-width="1.8" stroke-linecap="butt"/>
<rect x="362.55" y="703.05" width="8.4" height="8.4" fill="#0a0a0a"/>
<polyline points="131.25,689.4 171.75,696.15 250,711.9 366.75,732.4" fill="none" stroke="#0a0a0a" stroke-width="2.0"/>
<line x1="131.25" y1="686.25" x2="131.25" y2="695.5" stroke="#0a0a0a" stroke-width="2.0" stroke-linecap="butt"/>
<line x1="126.75" y1="686.25" x2="135.75" y2="686.25" stroke="#0a0a0a" stroke-width="1.8" stroke-linecap="butt"/>
<line x1="126.75" y1="695.5" x2="135.75" y2="695.5" stroke="#0a0a0a" stroke-width="1.8" stroke-linecap="butt"/>
<polygon points="126.35,685.50 136.15,685.50 131.25,694.50" fill="#0a0a0a"/>
<line x1="171.75" y1="690.5" x2="171.75" y2="701.75" stroke="#0a0a0a" stroke-width="2.0" stroke-linecap="butt"/>
<line x1="167.25" y1="690.5" x2="176.25" y2="690.5" stroke="#0a0a0a" stroke-width="1.8" stroke-linecap="butt"/>
<line x1="167.25" y1="701.75" x2="176.25" y2="701.75" stroke="#0a0a0a" stroke-width="1.8" stroke-linecap="butt"/>
<polygon points="166.85,692.25 176.65,692.25 171.75,701.25" fill="#0a0a0a"/>
<line x1="250" y1="706.0" x2="250" y2="717.5" stroke="#0a0a0a" stroke-width="2.0" stroke-linecap="butt"/>
<line x1="245.5" y1="706.0" x2="254.5" y2="706.0" stroke="#0a0a0a" stroke-width="1.8" stroke-linecap="butt"/>
<line x1="245.5" y1="717.5" x2="254.5" y2="717.5" stroke="#0a0a0a" stroke-width="1.8" stroke-linecap="butt"/>
<polygon points="245.10,708.00 254.90,708.00 250.00,717.00" fill="#0a0a0a"/>
<line x1="366.75" y1="727.5" x2="366.75" y2="738.0" stroke="#0a0a0a" stroke-width="2.0" stroke-linecap="butt"/>
<line x1="362.25" y1="727.5" x2="371.25" y2="727.5" stroke="#0a0a0a" stroke-width="1.8" stroke-linecap="butt"/>
<line x1="362.25" y1="738.0" x2="371.25" y2="738.0" stroke="#0a0a0a" stroke-width="1.8" stroke-linecap="butt"/>
<polygon points="361.85,728.50 371.65,728.50 366.75,737.50" fill="#0a0a0a"/>
<polyline points="132.3,721.6999999999999 171.75,731.4 250,742.15 366.75,753.4" fill="none" stroke="#0a0a0a" stroke-width="2.0"/>
<line x1="132.3" y1="714.75" x2="132.3" y2="725.5" stroke="#0a0a0a" stroke-width="2.0" stroke-linecap="butt"/>
<line x1="127.80000000000001" y1="714.75" x2="136.8" y2="714.75" stroke="#0a0a0a" stroke-width="1.8" stroke-linecap="butt"/>
<line x1="127.80000000000001" y1="725.5" x2="136.8" y2="725.5" stroke="#0a0a0a" stroke-width="1.8" stroke-linecap="butt"/>
<polygon points="127.40,725.80 137.20,725.80 132.30,716.80" fill="#0a0a0a"/>
<line x1="171.75" y1="724.75" x2="171.75" y2="735.0" stroke="#0a0a0a" stroke-width="2.0" stroke-linecap="butt"/>
<line x1="167.25" y1="724.75" x2="176.25" y2="724.75" stroke="#0a0a0a" stroke-width="1.8" stroke-linecap="butt"/>
<line x1="167.25" y1="735.0" x2="176.25" y2="735.0" stroke="#0a0a0a" stroke-width="1.8" stroke-linecap="butt"/>
<polygon points="166.85,735.50 176.65,735.50 171.75,726.50" fill="#0a0a0a"/>
<line x1="250" y1="735.5" x2="250" y2="746.75" stroke="#0a0a0a" stroke-width="2.0" stroke-linecap="butt"/>
<line x1="245.5" y1="735.5" x2="254.5" y2="735.5" stroke="#0a0a0a" stroke-width="1.8" stroke-linecap="butt"/>
<line x1="245.5" y1="746.75" x2="254.5" y2="746.75" stroke="#0a0a0a" stroke-width="1.8" stroke-linecap="butt"/>
<polygon points="245.10,746.25 254.90,746.25 250.00,737.25" fill="#0a0a0a"/>
<line x1="366.75" y1="747.5" x2="366.75" y2="759.25" stroke="#0a0a0a" stroke-width="2.0" stroke-linecap="butt"/>
<line x1="362.25" y1="747.5" x2="371.25" y2="747.5" stroke="#0a0a0a" stroke-width="1.8" stroke-linecap="butt"/>
<line x1="362.25" y1="759.25" x2="371.25" y2="759.25" stroke="#0a0a0a" stroke-width="1.8" stroke-linecap="butt"/>
<polygon points="361.85,757.50 371.65,757.50 366.75,748.50" fill="#0a0a0a"/>
<polyline points="131.25,759.25 171.75,763.0 250,762.5 366.75,780.0" fill="none" stroke="#0a0a0a" stroke-width="2.0"/>
<line x1="131.25" y1="753.5" x2="131.25" y2="764.75" stroke="#0a0a0a" stroke-width="2.0" stroke-linecap="butt"/>
<line x1="126.75" y1="753.5" x2="135.75" y2="753.5" stroke="#0a0a0a" stroke-width="1.8" stroke-linecap="butt"/>
<line x1="126.75" y1="764.75" x2="135.75" y2="764.75" stroke="#0a0a0a" stroke-width="1.8" stroke-linecap="butt"/>
<circle cx="131.25" cy="759.25" r="4.3" fill="#0a0a0a"/>
<line x1="171.75" y1="756.0" x2="171.75" y2="769.25" stroke="#0a0a0a" stroke-width="2.0" stroke-linecap="butt"/>
<line x1="167.25" y1="756.0" x2="176.25" y2="756.0" stroke="#0a0a0a" stroke-width="1.8" stroke-linecap="butt"/>
<line x1="167.25" y1="769.25" x2="176.25" y2="769.25" stroke="#0a0a0a" stroke-width="1.8" stroke-linecap="butt"/>
<circle cx="171.75" cy="763.0" r="4.3" fill="#0a0a0a"/>
<line x1="250" y1="756.25" x2="250" y2="768.0" stroke="#0a0a0a" stroke-width="2.0" stroke-linecap="butt"/>
<line x1="245.5" y1="756.25" x2="254.5" y2="756.25" stroke="#0a0a0a" stroke-width="1.8" stroke-linecap="butt"/>
<line x1="245.5" y1="768.0" x2="254.5" y2="768.0" stroke="#0a0a0a" stroke-width="1.8" stroke-linecap="butt"/>
<circle cx="250" cy="762.5" r="4.3" fill="#0a0a0a"/>
<line x1="366.75" y1="773.75" x2="366.75" y2="785.5" stroke="#0a0a0a" stroke-width="2.0" stroke-linecap="butt"/>
<line x1="362.25" y1="773.75" x2="371.25" y2="773.75" stroke="#0a0a0a" stroke-width="1.8" stroke-linecap="butt"/>
<line x1="362.25" y1="785.5" x2="371.25" y2="785.5" stroke="#0a0a0a" stroke-width="1.8" stroke-linecap="butt"/>
<circle cx="366.75" cy="780.0" r="4.3" fill="#0a0a0a"/>
<line x1="400.8" y1="642.9" x2="426.4" y2="642.9" stroke="#0a0a0a" stroke-width="2.1" stroke-linecap="butt"/>
<rect x="410.70" y="638.70" width="8.4" height="8.4" fill="#0a0a0a"/>
<text transform="translate(433.01,647.00) scale(1.0082,1)" font-size="11" fill="#0a0a0a" stroke="#0a0a0a" stroke-width="0.4"><tspan font-family="Liberation Sans" font-weight="normal">MOCK 1.1</tspan></text>
<line x1="400.8" y1="661.2" x2="426.4" y2="661.2" stroke="#0a0a0a" stroke-width="2.1" stroke-linecap="butt"/>
<polygon points="410.00,665.30 419.80,665.30 414.90,656.30" fill="#0a0a0a"/>
<text transform="translate(433.40,665.75) scale(1.0140,1)" font-size="11" fill="#0a0a0a" stroke="#0a0a0a" stroke-width="0.4"><tspan font-family="Liberation Sans" font-weight="normal">SOCS1 1.4</tspan></text>
<line x1="402.0" y1="679.7" x2="427.59999999999997" y2="679.7" stroke="#0a0a0a" stroke-width="2.1" stroke-linecap="butt"/>
<polygon points="410.00,676.00 419.80,676.00 414.90,685.00" fill="#0a0a0a"/>
<text transform="translate(433.40,684.50) scale(1.0144,1)" font-size="11" fill="#0a0a0a" stroke="#0a0a0a" stroke-width="0.4"><tspan font-family="Liberation Sans" font-weight="normal">SOCS2 3.1</tspan></text>
<line x1="400.8" y1="697.7" x2="426.4" y2="697.7" stroke="#0a0a0a" stroke-width="2.1" stroke-linecap="butt"/>
<circle cx="414.9" cy="697.7" r="4.3" fill="#0a0a0a"/>
<text transform="translate(433.39,701.75) scale(1.0262,1)" font-size="11" fill="#0a0a0a" stroke="#0a0a0a" stroke-width="0.4"><tspan font-family="Liberation Sans" font-weight="normal">SOCS3 6.6</tspan></text>
</svg>
</body></html>
